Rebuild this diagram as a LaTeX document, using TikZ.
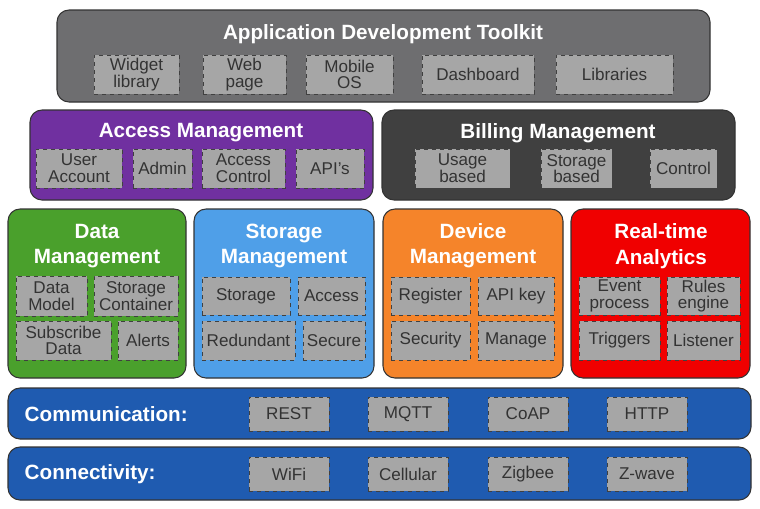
\documentclass[tikz,border=0pt]{standalone}
\usepackage{fontspec}
\setmainfont{Liberation Sans}
\begin{document}
\begin{tikzpicture}[x=0.75pt,y=-0.75pt,
  big/.style={draw=black!80,line width=0.8pt,rounded corners=9pt,inner sep=0pt},
  ib/.style={draw=black!75,dashed,line width=0.7pt,fill=black!35,text=black!80,inner sep=0pt,
    align=center,font=\fontsize{12.8}{12.5}\selectfont},
  ttl/.style={text=white,font=\fontsize{15.5}{19}\selectfont\bfseries,align=center}]
\newcommand\bigbox[6]{\node[big,fill=#6,minimum width={(#4-#2)*0.75pt},minimum height={(#5-#3)*0.75pt}] (#1) at ({(#2+#4)/2},{(#3+#5)/2}) {};}
\newcommand\ibx[6]{\node[ib,minimum width={(#4-#2)*0.75pt},minimum height={(#5-#3)*0.75pt}] (#1) at ({(#2+#4)/2},{(#3+#5)/2}) {#6};}
\definecolor{cgray}{HTML}{6E6E70}
\definecolor{cpurple}{HTML}{7030A0}
\definecolor{cdark}{HTML}{404040}
\definecolor{cgreen}{HTML}{4AA02C}
\definecolor{cblue}{HTML}{4F9FE8}
\definecolor{corange}{HTML}{F5842A}
\definecolor{cred}{HTML}{F00000}
\definecolor{cnavy}{HTML}{1F5BB0}
\useasboundingbox (0,0) rectangle (760,508);
\fill[white] (0,0) rectangle (760,508);
% top
\bigbox{adt}{57}{10}{710}{102}{cgray}
\node[ttl] (adtT) at (383,34) {Application Development Toolkit};
\ibx{w1}{94}{55}{179}{94}{Widget\\library}
\ibx{w2}{203}{55}{286}{94}{Web\\page}
\ibx{w3}{306}{55}{393}{94}{Mobile\\OS}
\ibx{w4}{422}{55}{534}{94}{Dashboard}
\ibx{w5}{556}{55}{673}{94}{Libraries}
% access
\bigbox{acc}{30}{110}{373}{200}{cpurple}
\node[ttl] (accT) at (201,133) {Access Management};
\ibx{a1}{36}{149}{122}{188}{User\\Account}
\ibx{a2}{133}{149}{192}{188}{Admin}
\ibx{a3}{202}{149}{285}{188}{Access\\Control}
\ibx{a4}{296}{149}{364}{188}{API's}
% billing
\bigbox{bil}{382}{110}{735}{200}{cdark}
\node[ttl] (bilT) at (558,133) {Billing Management};
\ibx{b1}{415}{149}{510}{188}{Usage\\based}
\ibx{b2}{541}{149}{612}{188}{Storage\\based}
\ibx{b3}{650}{149}{717}{188}{Control}
% data
\bigbox{dat}{8}{209}{186}{378}{cgreen}
\node[ttl] (datT) at (97,246) {Data\\Management};
\ibx{d1}{16}{276}{87}{316}{Data\\Model}
\ibx{d2}{94}{276}{178}{316}{Storage\\Container}
\ibx{d3}{16}{321}{111}{360}{Subscribe\\Data}
\ibx{d4}{118}{321}{178}{360}{Alerts}
% storage
\bigbox{sto}{194}{209}{374}{378}{cblue}
\node[ttl] (stoT) at (284,246) {Storage\\Management};
\ibx{s1}{202}{277}{290}{315}{Storage}
\ibx{s2}{298}{277}{365}{315}{Access}
\ibx{s3}{202}{321}{295}{360}{Redundant}
\ibx{s4}{303}{321}{365}{360}{Secure}
% device
\bigbox{dev}{383}{209}{563}{378}{corange}
\node[ttl] (devT) at (473,246) {Device\\Management};
\ibx{v1}{391}{277}{470}{315}{Register}
\ibx{v2}{478}{277}{554}{315}{API key}
\ibx{v3}{391}{321}{470}{360}{Security}
\ibx{v4}{478}{321}{554}{360}{Manage}
% realtime
\bigbox{rta}{571}{209}{750}{378}{cred}
\node[ttl] (rtaT) at (661,246) {Real-time\\Analytics};
\ibx{r1}{579}{277}{660}{315}{Event\\process}
\ibx{r2}{667}{277}{740}{315}{Rules\\engine}
\ibx{r3}{579}{321}{660}{360}{Triggers}
\ibx{r4}{667}{321}{740}{360}{Listener}
% communication
\bigbox{com}{8}{388}{751}{439}{cnavy}
\node[ttl,anchor=west] (comT) at (20,414) {Communication:};
\ibx{c1}{249}{397}{329}{431}{REST}
\ibx{c2}{368}{397}{448}{431}{MQTT}
\ibx{c3}{488}{397}{568}{431}{CoAP}
\ibx{c4}{607}{397}{687}{431}{HTTP}
% connectivity
\bigbox{con}{8}{447}{751}{500}{cnavy}
\node[ttl,anchor=west] (conT) at (20,474) {Connectivity:};
\ibx{k1}{249}{457}{329}{491}{WiFi}
\ibx{k2}{368}{457}{448}{491}{Cellular}
\ibx{k3}{488}{457}{568}{491}{Zigbee}
\ibx{k4}{607}{457}{687}{491}{Z-wave}
\end{tikzpicture}
\end{document}
